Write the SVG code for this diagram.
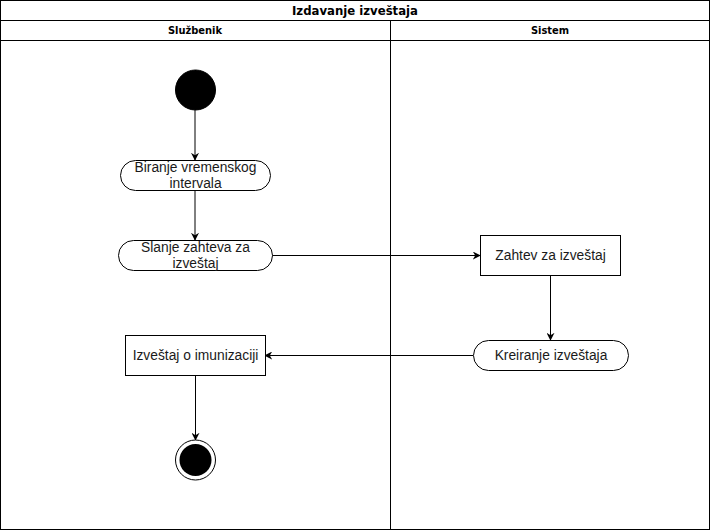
<svg xmlns="http://www.w3.org/2000/svg" width="711" height="531" viewBox="0 0 711 531">
<style>
.frame{fill:#fff;stroke:#000;stroke-width:1}
.node{fill:#fff;stroke:#000;stroke-width:1}
.lbl{font-family:"Liberation Sans",Arial,sans-serif;font-size:13.8px;fill:#1a1a1a;text-anchor:middle}
.hdr{font-family:"DejaVu Sans Condensed","Liberation Sans",Arial,sans-serif;font-size:11px;font-weight:bold;fill:#000;text-anchor:middle}
.title{font-family:"DejaVu Sans Condensed","Liberation Sans",Arial,sans-serif;font-size:13px;font-weight:bold;fill:#000;text-anchor:middle}
.edge{fill:none;stroke:#000;stroke-width:1}
</style>
<defs>
<marker id="arr" viewBox="0 0 10 10" refX="9" refY="5" markerWidth="8" markerHeight="8" markerUnits="userSpaceOnUse" orient="auto">
<path d="M0,0 L10,5 L0,10 L3,5 Z" fill="#000"/>
</marker>
</defs>
<rect width="711" height="531" fill="#fff"/>
<g id="pool">
<rect class="frame" x="0.5" y="0.5" width="709" height="529"/>
<line class="edge" x1="0.5" y1="20.5" x2="709.5" y2="20.5"/>
<line class="edge" x1="0.5" y1="40.5" x2="709.5" y2="40.5"/>
<line class="edge" x1="390.5" y1="20.5" x2="390.5" y2="529.5"/>
<text class="title" x="355" y="15">Izdavanje izveštaja</text>
<text class="hdr" x="195" y="34">Službenik</text>
<text class="hdr" x="550" y="34">Sistem</text>
</g>
<g id="connectors">
<line class="edge" x1="195" y1="110" x2="195" y2="160" marker-end="url(#arr)"/>
<line class="edge" x1="195" y1="190" x2="195" y2="240" marker-end="url(#arr)"/>
<line class="edge" x1="272" y1="255.5" x2="480" y2="255.5" marker-end="url(#arr)"/>
<line class="edge" x1="550.5" y1="275" x2="550.5" y2="340" marker-end="url(#arr)"/>
<line class="edge" x1="473" y1="355.5" x2="265" y2="355.5" marker-end="url(#arr)"/>
<line class="edge" x1="195.5" y1="375" x2="195.5" y2="440" marker-end="url(#arr)"/>
</g>
<g id="start"><circle cx="195.5" cy="90" r="20" fill="#000" stroke="#000"/></g>
<g id="biranje">
<rect class="node" x="120.5" y="160.5" width="150" height="30" rx="15" ry="15"/>
<text class="lbl" x="195.5" y="172">Biranje vremenskog</text>
<text class="lbl" x="195.5" y="188">intervala</text>
</g>
<g id="slanje">
<rect class="node" x="118.5" y="240.5" width="154" height="30" rx="15" ry="15"/>
<text class="lbl" x="195.5" y="252">Slanje zahteva za</text>
<text class="lbl" x="195.5" y="268">izveštaj</text>
</g>
<g id="zahtev">
<rect class="node" x="480.5" y="235.5" width="140" height="40"/>
<text class="lbl" x="550.5" y="260">Zahtev za izveštaj</text>
</g>
<g id="kreiranje">
<rect class="node" x="473.5" y="340.5" width="155" height="30" rx="15" ry="15"/>
<text class="lbl" x="551" y="360">Kreiranje izveštaja</text>
</g>
<g id="izvestaj">
<rect class="node" x="125.5" y="335.5" width="140" height="40"/>
<text class="lbl" x="195.5" y="360">Izveštaj o imunizaciji</text>
</g>
<g id="end">
<circle cx="195.5" cy="460" r="20" fill="#fff" stroke="#000"/>
<circle cx="195.5" cy="460" r="16" fill="#000"/>
</g>
</svg>
